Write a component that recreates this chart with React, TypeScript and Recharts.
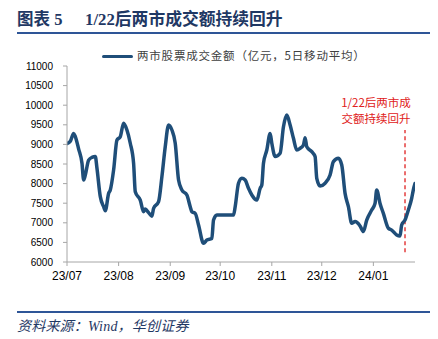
import React from "react";
import { LineChart, Line, XAxis, YAxis, ReferenceLine } from "recharts";

// x = days since 2023-07-03 (first trading day shown)
const dayOffsets = [
  0, 2, 4, 5, 7, 9, 10, 11, 13, 15, 17, 18, 20, 22, 23, 25, 26, 28, 30, 32, 34, 36, 38, 40, 41, 44, 46, 47, 49, 51,
  52, 55, 57, 59, 61, 63, 65, 67, 69, 72, 74, 75, 77, 79, 82, 84, 87, 88, 90, 100, 101, 103, 105, 107, 109, 111, 114,
  116, 117, 118, 120, 122, 123, 125, 128, 130, 132, 134, 136, 138, 140, 142, 143, 144, 147, 149, 150, 152, 155, 158,
  160, 163, 165, 167, 169, 171, 173, 176, 178, 180, 183, 185, 186, 188, 190, 193, 195, 198, 200, 201, 203, 205, 207,
  208, 209,
];
// 两市股票成交金额（亿元，5日移动平均）
const turnover = [
  9020, 9080, 9280, 9200, 8880, 8517, 8090, 8220, 8600, 8670, 8690, 8390, 7667, 7410, 7310, 7750, 7837, 8350, 9110,
  9197, 9540, 9367, 9030, 8517, 7795, 7580, 7280, 7350, 7260, 7170, 7370, 7540, 8177, 8940, 9495, 9367, 9030, 8090,
  7837, 7710, 7410, 7283, 7240, 6945, 6477, 6560, 6600, 7070, 7200, 7200, 7410, 8010, 8135, 8090, 7880, 7710, 7580,
  7880, 7965, 8520, 8857, 9280, 9030, 8690, 8775, 9450, 9750, 9495, 9155, 8857, 8900, 8985, 9170, 8940, 8815, 8690,
  8135, 7940, 8010, 8220, 8560, 8645, 8475, 7750, 7410, 6987, 7030, 6920, 6775, 7070, 7325, 7495, 7837, 7495, 7240,
  6860, 6815, 6690, 6663, 6945, 7070, 7325, 7625, 7840, 8000,
];

const monthTicks = [0, 31, 62, 92, 123, 153, 184];
const monthLabels = ["23/07", "23/08", "23/09", "23/10", "23/11", "23/12", "24/01"];
const yTicks = [6000, 6500, 7000, 7500, 8000, 8500, 9000, 9500, 10000, 10500, 11000];
const markerDay = 203; // 2024-01-22
const markerRange = [6250, 9370];

const data = dayOffsets.map((d, i) => ({ d, v: turnover[i] }));

const NAVY = "#1F3864";
const LINE = "#1F4E79";
const RED = "#E02020";
const CJK = '"Noto Sans CJK SC", sans-serif';

export default function App() {
  return (
    <div style={{ position: "absolute", left: 0, top: 0, width: 438, height: 339, background: "#fff", overflow: "hidden" }}>
      {/* Title */}
      <div
        style={{
          position: "absolute",
          left: 17,
          top: 9,
          fontFamily: '"Liberation Serif", "Noto Sans CJK SC", serif',
          fontWeight: "bold",
          fontSize: 16.5,
          color: NAVY,
          whiteSpace: "nowrap",
          lineHeight: "22px",
        }}
      >
        图表&nbsp;5
      </div>
      <div
        style={{
          position: "absolute",
          left: 85,
          top: 9,
          fontFamily: '"Liberation Serif", "Noto Sans CJK SC", serif',
          fontWeight: "bold",
          fontSize: 16.8,
          color: NAVY,
          whiteSpace: "nowrap",
          lineHeight: "22px",
        }}
      >
        1/22后两市成交额持续回升
      </div>
      <div style={{ position: "absolute", left: 17, top: 32, width: 413, height: 2, background: "#2E5597" }} />

      {/* Legend */}
      <div style={{ position: "absolute", left: 102, top: 55, width: 31, height: 3, background: LINE, borderRadius: 2 }} />
      <div
        style={{
          position: "absolute",
          left: 137,
          top: 47,
          fontFamily: CJK,
          fontSize: 11.5,
          letterSpacing: 0.8,
          color: "#404040",
          whiteSpace: "nowrap",
          lineHeight: "16px",
        }}
      >
        两市股票成交金额（亿元，5日移动平均）
      </div>

      {/* Annotation */}
      <div
        style={{
          position: "absolute",
          left: 336,
          top: 95,
          width: 80,
          textAlign: "center",
          fontFamily: CJK,
          fontSize: 11.5,
          color: RED,
          lineHeight: "15.5px",
          whiteSpace: "nowrap",
        }}
      >
        1/22后两市成
        <br />
        交额持续回升
      </div>

      <div style={{ position: "absolute", left: 0, top: 0 }}>
        <LineChart width={438} height={339} data={data} margin={{ top: 66, right: 23, bottom: 47, left: 7 }}>
          <XAxis
            dataKey="d"
            type="number"
            domain={[0, 209]}
            ticks={monthTicks}
            tickFormatter={(v: number) => monthLabels[monthTicks.indexOf(v)] ?? ""}
            height={30}
            tickSize={4}
            tickMargin={5}
            stroke="#A6A6A6"
            tick={{ fill: "#000", fontSize: 12, fontFamily: '"Liberation Sans", Arial, sans-serif' }}
            allowDataOverflow
          />
          <YAxis
            domain={[6000, 11000]}
            ticks={yTicks}
            width={60}
            tickSize={4}
            tickMargin={10}
            stroke="#A6A6A6"
            interval={0}
            tick={{ fill: "#000", fontSize: 10, fontFamily: '"Liberation Sans", Arial, sans-serif' }}
          />
          <ReferenceLine
            segment={[
              { x: markerDay, y: markerRange[0] },
              { x: markerDay, y: markerRange[1] },
            ]}
            stroke={RED}
            strokeWidth={1.3}
            strokeDasharray="4 3"
            ifOverflow="visible"
          />
          <Line
            type="monotone"
            dataKey="v"
            stroke={LINE}
            strokeWidth={3.5}
            dot={false}
            strokeLinejoin="round"
            strokeLinecap="round"
            isAnimationActive={false}
          />
        </LineChart>
      </div>

      {/* Footer */}
      <div style={{ position: "absolute", left: 17, top: 311, width: 413, height: 2, background: "#2E5597" }} />
      <div
        style={{
          position: "absolute",
          left: 17,
          top: 318,
          fontFamily: '"Liberation Serif", "Noto Sans CJK SC", serif',
          fontStyle: "italic",
          fontSize: 14,
          letterSpacing: 0.2,
          color: NAVY,
          whiteSpace: "nowrap",
          lineHeight: "18px",
        }}
      >
        资料来源：Wind，华创证券
      </div>
    </div>
  );
}
